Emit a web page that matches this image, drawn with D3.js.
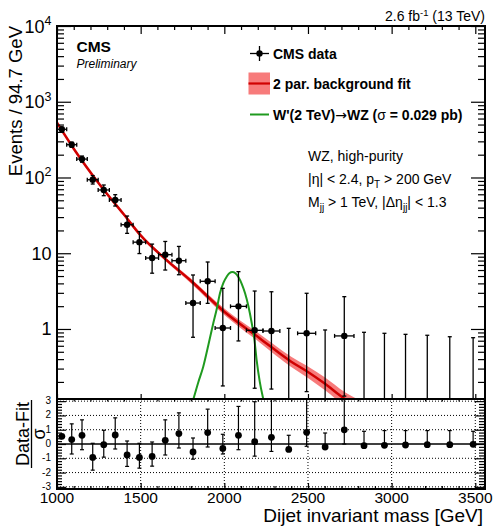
<!DOCTYPE html>
<html>
<head>
<meta charset="utf-8">
<script src="https://cdn.jsdelivr.net/npm/d3@7"></script>
<style>
  body { margin: 0; background: #fff; }
  text { font-family: "Liberation Sans", Arial, Helvetica, sans-serif; fill: #000; }
</style>
</head>
<body>
<svg id="chart" width="495" height="529"></svg>
<script>

// dijet mass binning (GeV)
var binEdges = [1000, 1058, 1118, 1181, 1246, 1313, 1383, 1455, 1530, 1607, 1687, 1770, 1856,
    1945, 2037, 2132, 2231, 2332, 2438, 2546, 2659, 2775, 2895, 3019, 3147, 3279, 3416, 3558];

// events / 94.7 GeV, null = empty bin
var dataVals = [433, 271, 175, 93.5, 68.4, 50.5, 23.8, 14.0, 8.65, 9.57, 7.97, 2.20, 4.26,
    1.03, 1.99, 0.96, 0.94, null, 0.877, null, 0.81, null, null, null, null, null, null];
var dataLow = [407, 250, 159, 82, 57.5, 42, 18.3, 9.9, 5.45, 6.0, 5.2, 0.777, 2.18,
    0.177, 0.695, 0.165, 0.161, null, 0.149, null, 0.13, null, null, null, null, null, null];
var dataHigh = [460, 293, 192, 106, 79.6, 59.3, 31.0, 19.3, 13.2, 14.3, 12.3, 5.16, 7.66,
    3.44, 5.71, 3.17, 3.1, 1.02, 2.96, 0.97, 2.67, 0.904, 0.877, 0.85, 0.826, 0.79, 0.767];

// (data-fit)/sigma
var pullVals = [0.54, 0.31, 0.61, -0.94, -0.05, 0.63, -0.77, -0.94, -0.87, 0.26, 0.73, -0.56, 0.80,
    -0.31, 0.61, 0.16, 0.47, -0.38, 0.82, -0.21, 0.99, -0.12, -0.09, -0.07, -0.05, -0.05, -0.02];
var pullLow = [0.54, -0.70, -0.40, -1.83, -0.92, -0.35, -1.57, -1.69, -1.55, -0.77, -0.28, -1.06, -0.21,
    -0.70, -0.40, -0.85, -0.52, -0.38, -0.16, -0.21, 0.0, -0.12, -0.09, -0.07, -0.05, -0.05, -0.02];
var pullHigh = [0.54, 1.41, 1.69, 0.05, 0.96, 1.83, 0.21, 0.05, 0.14, 1.69, 2.18, 0.42, 2.44,
    0.68, 2.63, 2.96, 3.3, 0.61, 3.3, 0.77, 3.3, 0.89, 0.94, 0.94, 0.94, 0.94, 0.89];

// background fit
var fitMass = [1000, 1100, 1257, 1400, 1500, 1650, 1795, 2000, 2213, 2400, 2500, 2600, 2721, 2850];
var fitVals = [529, 240, 79.6, 32.4, 17.2, 8.3, 4.43, 1.69, 0.75, 0.37, 0.27, 0.19, 0.119, 0.083];
var fitLow = [508, 231, 76.8, 31.1, 16.4, 7.85, 4.12, 1.53, 0.66, 0.315, 0.226, 0.156, 0.096, 0.065];
var fitHigh = [550, 249, 82.5, 33.7, 18.0, 8.75, 4.76, 1.86, 0.85, 0.43, 0.32, 0.23, 0.146, 0.104];

// W'(2 TeV) signal shape
var sigMass = [1800, 1815, 1845, 1874, 1905, 1934, 1955, 1974, 1995, 2014, 2030, 2048, 2066,
    2084, 2104, 2124, 2144, 2164, 2180, 2193, 2212, 2233, 2250];
var sigVals = [0.09, 0.118, 0.2, 0.318, 0.62, 1.19, 1.85, 2.96, 4.1, 4.9, 5.45, 5.65, 5.45,
    4.85, 3.95, 2.96, 2.0, 1.19, 0.72, 0.39, 0.2, 0.118, 0.08];

var xTicks = [1000, 1500, 2000, 2500, 3000, 3500];
var yTicks = [1, 10, 100, 1000, 10000];
var pullTicks = [-3, -2, -1, 0, 1, 2, 3];

var padL = 57, padR = 485, padT = 26, padM = 399, padB = 489;

var svg = d3.select('#chart');

var x = d3.scaleLinear().domain([1000, 3558]).range([padL, padR]);
var y = d3.scaleLog().domain([0.119, 10000]).range([padM, padT]);
var yp = d3.scaleLinear().domain([-3.15, 3.15]).range([padB, padM]);

var bandColor = '#f77b7b', fitColor = '#d00000', sigColor = '#1f9a1f';

svg.append('clipPath').attr('id', 'clipTop')
    .append('rect').attr('x', padL).attr('y', padT).attr('width', padR - padL).attr('height', padM - padT);
svg.append('clipPath').attr('id', 'clipBot')
    .append('rect').attr('x', padL).attr('y', padM).attr('width', padR - padL).attr('height', padB - padM);

// ---- top panel ----
var plot = svg.append('g').attr('clip-path', 'url(#clipTop)');

var fitPts = fitMass.map(function (m, i) { return {m: m, v: fitVals[i], lo: fitLow[i], hi: fitHigh[i]}; });

plot.append('path')
    .datum(fitPts)
    .attr('d', d3.area().curve(d3.curveMonotoneX)
        .x(function (d) { return x(d.m); })
        .y0(function (d) { return y(d.lo); })
        .y1(function (d) { return y(d.hi); }))
    .attr('fill', bandColor);

plot.append('path')
    .datum(fitPts)
    .attr('d', d3.line().curve(d3.curveMonotoneX)
        .x(function (d) { return x(d.m); })
        .y(function (d) { return y(d.v); }))
    .attr('fill', 'none').attr('stroke', fitColor).attr('stroke-width', 2.5);

plot.append('path')
    .datum(sigMass.map(function (m, i) { return [m, sigVals[i]]; }))
    .attr('d', d3.line().curve(d3.curveMonotoneX)
        .x(function (d) { return x(d[0]); })
        .y(function (d) { return y(d[1]); }))
    .attr('fill', 'none').attr('stroke', sigColor).attr('stroke-width', 2);

var bins = dataHigh.map(function (h, i) {
    return {
        lo: binEdges[i], hi: binEdges[i + 1], c: (binEdges[i] + binEdges[i + 1]) / 2,
        v: dataVals[i], eLo: dataLow[i], eHi: h,
        p: pullVals[i], pLo: pullLow[i], pHi: pullHigh[i]
    };
});

var pts = plot.selectAll('g.pt').data(bins).enter().append('g').attr('class', 'pt');

pts.each(function (d) {
    var g = d3.select(this);
    var cx = x(d.c);
    var yHi = y(d.eHi);
    var yLo = d.eLo === null ? padM + 2 : y(d.eLo);
    g.append('line').attr('x1', cx).attr('x2', cx).attr('y1', yHi).attr('y2', yLo)
        .attr('stroke', '#000').attr('stroke-width', 1.3);
    g.append('line').attr('x1', cx - 2).attr('x2', cx + 2).attr('y1', yHi).attr('y2', yHi)
        .attr('stroke', '#000').attr('stroke-width', 1.3);
    if (d.eLo !== null) {
        g.append('line').attr('x1', cx - 2).attr('x2', cx + 2).attr('y1', yLo).attr('y2', yLo)
            .attr('stroke', '#000').attr('stroke-width', 1.3);
    }
    if (d.v !== null) {
        var cy = y(d.v);
        g.append('line').attr('x1', x(d.lo)).attr('x2', x(d.hi)).attr('y1', cy).attr('y2', cy)
            .attr('stroke', '#000').attr('stroke-width', 1.3);
        g.append('line').attr('x1', x(d.lo)).attr('x2', x(d.lo)).attr('y1', cy - 2).attr('y2', cy + 2)
            .attr('stroke', '#000').attr('stroke-width', 1.3);
        g.append('line').attr('x1', x(d.hi)).attr('x2', x(d.hi)).attr('y1', cy - 2).attr('y2', cy + 2)
            .attr('stroke', '#000').attr('stroke-width', 1.3);
        g.append('circle').attr('cx', cx).attr('cy', cy).attr('r', 3.2).attr('fill', '#000');
    }
});

// ---- bottom panel ----
var low = svg.append('g').attr('clip-path', 'url(#clipBot)');

pullTicks.filter(function (t) { return t !== 0; }).forEach(function (t) {
    low.append('line').attr('x1', padL).attr('x2', padR).attr('y1', yp(t)).attr('y2', yp(t))
        .attr('stroke', '#000').attr('stroke-width', 1).attr('stroke-dasharray', '1,2');
});
xTicks.slice(1).forEach(function (t) {
    low.append('line').attr('x1', x(t)).attr('x2', x(t)).attr('y1', padM).attr('y2', padB)
        .attr('stroke', '#000').attr('stroke-width', 1).attr('stroke-dasharray', '1,2');
});
low.append('line').attr('x1', padL).attr('x2', padR).attr('y1', yp(0)).attr('y2', yp(0))
    .attr('stroke', '#000').attr('stroke-width', 1.6);

var pp = low.selectAll('g.pull').data(bins).enter().append('g').attr('class', 'pull');
pp.each(function (d) {
    var g = d3.select(this);
    var cx = x(d.c);
    if (d.pHi - d.pLo > 0.01) {
        g.append('line').attr('x1', cx).attr('x2', cx).attr('y1', yp(d.pHi)).attr('y2', yp(d.pLo))
            .attr('stroke', '#000').attr('stroke-width', 1.2);
        [d.pHi, d.pLo].forEach(function (e) {
            if (Math.abs(e - d.p) > 0.05) {
                g.append('line').attr('x1', cx - 2).attr('x2', cx + 2).attr('y1', yp(e)).attr('y2', yp(e))
                    .attr('stroke', '#000').attr('stroke-width', 1.2);
            }
        });
    }
    g.append('circle').attr('cx', cx).attr('cy', yp(d.p)).attr('r', 3.4).attr('fill', '#000');
});

// ---- axes: ticks drawn inward with d3 axes ----
function ticksOnly(g) {
    g.select('.domain').remove();
    g.selectAll('text').remove();
    g.selectAll('line').attr('stroke', '#000').attr('stroke-width', 1.2);
}

var xMinor = d3.range(1000, 3559, 100).filter(function (v) { return v % 500 !== 0; });
var logMinor = [];
[0.1, 1, 10, 100, 1000].forEach(function (dec) {
    for (var k = 2; k <= 9; k++) {
        var v = k * dec;
        if (v > 0.119 && v < 10000) logMinor.push(v);
    }
});
var pullMinor = d3.range(-3, 3.01, 0.2).map(function (v) { return Math.round(v * 10) / 10; })
    .filter(function (v) { return Math.abs(v - Math.round(v)) > 0.01; });

// top panel
svg.append('g').attr('transform', 'translate(0,' + padT + ')')
    .call(d3.axisBottom(x).tickValues(xTicks).tickSize(8)).call(ticksOnly);
svg.append('g').attr('transform', 'translate(0,' + padT + ')')
    .call(d3.axisBottom(x).tickValues(xMinor).tickSize(4)).call(ticksOnly);
svg.append('g').attr('transform', 'translate(0,' + padM + ')')
    .call(d3.axisTop(x).tickValues(xTicks).tickSize(5)).call(ticksOnly);
svg.append('g').attr('transform', 'translate(' + padL + ',0)')
    .call(d3.axisRight(y).tickValues(yTicks).tickSize(14)).call(ticksOnly);
svg.append('g').attr('transform', 'translate(' + padL + ',0)')
    .call(d3.axisRight(y).tickValues(logMinor).tickSize(7)).call(ticksOnly);
svg.append('g').attr('transform', 'translate(' + padR + ',0)')
    .call(d3.axisLeft(y).tickValues(yTicks).tickSize(14)).call(ticksOnly);
svg.append('g').attr('transform', 'translate(' + padR + ',0)')
    .call(d3.axisLeft(y).tickValues(logMinor).tickSize(7)).call(ticksOnly);

// bottom panel
svg.append('g').attr('transform', 'translate(0,' + padB + ')')
    .call(d3.axisTop(x).tickValues(xTicks).tickSize(6)).call(ticksOnly);
svg.append('g').attr('transform', 'translate(0,' + padB + ')')
    .call(d3.axisTop(x).tickValues(xMinor).tickSize(3)).call(ticksOnly);
svg.append('g').attr('transform', 'translate(0,' + padM + ')')
    .call(d3.axisBottom(x).tickValues(xMinor).tickSize(2.5)).call(ticksOnly);
svg.append('g').attr('transform', 'translate(' + padL + ',0)')
    .call(d3.axisRight(yp).tickValues(pullTicks).tickSize(9)).call(ticksOnly);
svg.append('g').attr('transform', 'translate(' + padL + ',0)')
    .call(d3.axisRight(yp).tickValues(pullMinor).tickSize(5)).call(ticksOnly);
svg.append('g').attr('transform', 'translate(' + padR + ',0)')
    .call(d3.axisLeft(yp).tickValues(pullTicks).tickSize(10)).call(ticksOnly);
svg.append('g').attr('transform', 'translate(' + padR + ',0)')
    .call(d3.axisLeft(yp).tickValues(pullMinor).tickSize(6)).call(ticksOnly);

// frames
svg.append('rect').attr('x', padL).attr('y', padT).attr('width', padR - padL).attr('height', padM - padT)
    .attr('fill', 'none').attr('stroke', '#000').attr('stroke-width', 2);
svg.append('rect').attr('x', padL).attr('y', padM).attr('width', padR - padL).attr('height', padB - padM)
    .attr('fill', 'none').attr('stroke', '#000').attr('stroke-width', 2);

// ---- tick labels ----
yTicks.forEach(function (v) {
    var t = svg.append('text').attr('x', 51.5).attr('y', y(v) + 6.5)
        .attr('text-anchor', 'end').style('font-size', '18px');
    if (v >= 100) {
        t.append('tspan').text('10');
        t.append('tspan').attr('dy', -7.5).style('font-size', '12.5px').text(Math.round(Math.log10(v)));
    } else {
        t.text(v);
    }
});

pullTicks.forEach(function (v) {
    svg.append('text').attr('x', 51).attr('y', yp(v) + 3)
        .attr('text-anchor', 'end').style('font-size', '10px').text(v);
});

xTicks.forEach(function (v) {
    svg.append('text').attr('x', x(v)).attr('y', 502.5)
        .attr('text-anchor', 'middle').style('font-size', '15.5px').text(v);
});

// ---- axis titles ----
svg.append('text').attr('transform', 'translate(22,26) rotate(-90)')
    .attr('text-anchor', 'end').style('font-size', '18.5px').text('Events / 94.7 GeV');

svg.append('text').attr('x', 483).attr('y', 522)
    .attr('text-anchor', 'end').style('font-size', '19px').text('Dijet invariant mass [GeV]');

svg.append('text').attr('transform', 'translate(28.5,434) rotate(-90)')
    .attr('text-anchor', 'middle').style('font-size', '18px').text('Data-Fit');
svg.append('line').attr('x1', 31.5).attr('x2', 31.5).attr('y1', 400).attr('y2', 468)
    .attr('stroke', '#000').attr('stroke-width', 1.3);
svg.append('text').attr('transform', 'translate(45,434) rotate(-90)')
    .attr('text-anchor', 'middle').style('font-size', '18px').text('σ');

// ---- labels ----
var lumi = svg.append('text').attr('x', 485).attr('y', 20.5).attr('text-anchor', 'end').style('font-size', '14px');
lumi.append('tspan').text('2.6 fb');
lumi.append('tspan').attr('dy', -5).style('font-size', '9.5px').text('-1');
lumi.append('tspan').attr('dy', 5).text(' (13 TeV)');

svg.append('text').attr('x', 76.5).attr('y', 52).style('font-size', '15.5px')
    .style('font-weight', 'bold').text('CMS');
svg.append('text').attr('x', 76.5).attr('y', 68).style('font-size', '12px')
    .style('font-style', 'italic').text('Preliminary');

// legend
var lg = svg.append('g');
lg.append('line').attr('x1', 250).attr('x2', 269).attr('y1', 53.5).attr('y2', 53.5).attr('stroke', '#000').attr('stroke-width', 1.3);
lg.append('line').attr('x1', 259.5).attr('x2', 259.5).attr('y1', 46).attr('y2', 61).attr('stroke', '#000').attr('stroke-width', 1.3);
lg.append('circle').attr('cx', 259.5).attr('cy', 53.5).attr('r', 3.2).attr('fill', '#000');
lg.append('text').attr('x', 273).attr('y', 59).style('font-size', '14px').style('font-weight', 'bold').text('CMS data');

lg.append('rect').attr('x', 248.5).attr('y', 72.5).attr('width', 21.5).attr('height', 22).attr('fill', bandColor);
lg.append('line').attr('x1', 248.5).attr('x2', 270).attr('y1', 83.5).attr('y2', 83.5).attr('stroke', fitColor).attr('stroke-width', 2.2);
lg.append('text').attr('x', 273).attr('y', 89).style('font-size', '14px').style('font-weight', 'bold').text('2 par. background fit');

lg.append('line').attr('x1', 250).attr('x2', 269).attr('y1', 114.5).attr('y2', 114.5).attr('stroke', sigColor).attr('stroke-width', 2);
var st = lg.append('text').attr('x', 273).attr('y', 120).style('font-size', '14px').style('font-weight', 'bold');
st.append('tspan').text("W'(2 TeV)");
st.append('tspan').style('font-weight', 'normal').style('font-family', 'DejaVu Sans').text('→');
st.append('tspan').text('WZ (');
st.append('tspan').style('font-weight', 'normal').text('σ');
st.append('tspan').text(' = 0.029 pb)');

// selection text
var sel = svg.append('g').style('font-size', '14px');
sel.append('text').attr('x', 308).attr('y', 161).text('WZ, high-purity');
var s2 = sel.append('text').attr('x', 308).attr('y', 184);
s2.append('tspan').text('|η| < 2.4, p');
s2.append('tspan').attr('dy', 4).style('font-size', '10px').text('T');
s2.append('tspan').attr('dy', -4).text(' > 200 GeV');
var s3 = sel.append('text').attr('x', 308).attr('y', 207);
s3.append('tspan').text('M');
s3.append('tspan').attr('dy', 4).style('font-size', '10px').text('jj');
s3.append('tspan').attr('dy', -4).text(' > 1 TeV, |Δη');
s3.append('tspan').attr('dy', 4).style('font-size', '10px').text('jj');
s3.append('tspan').attr('dy', -4).text('| < 1.3');

</script>
</body>
</html>
